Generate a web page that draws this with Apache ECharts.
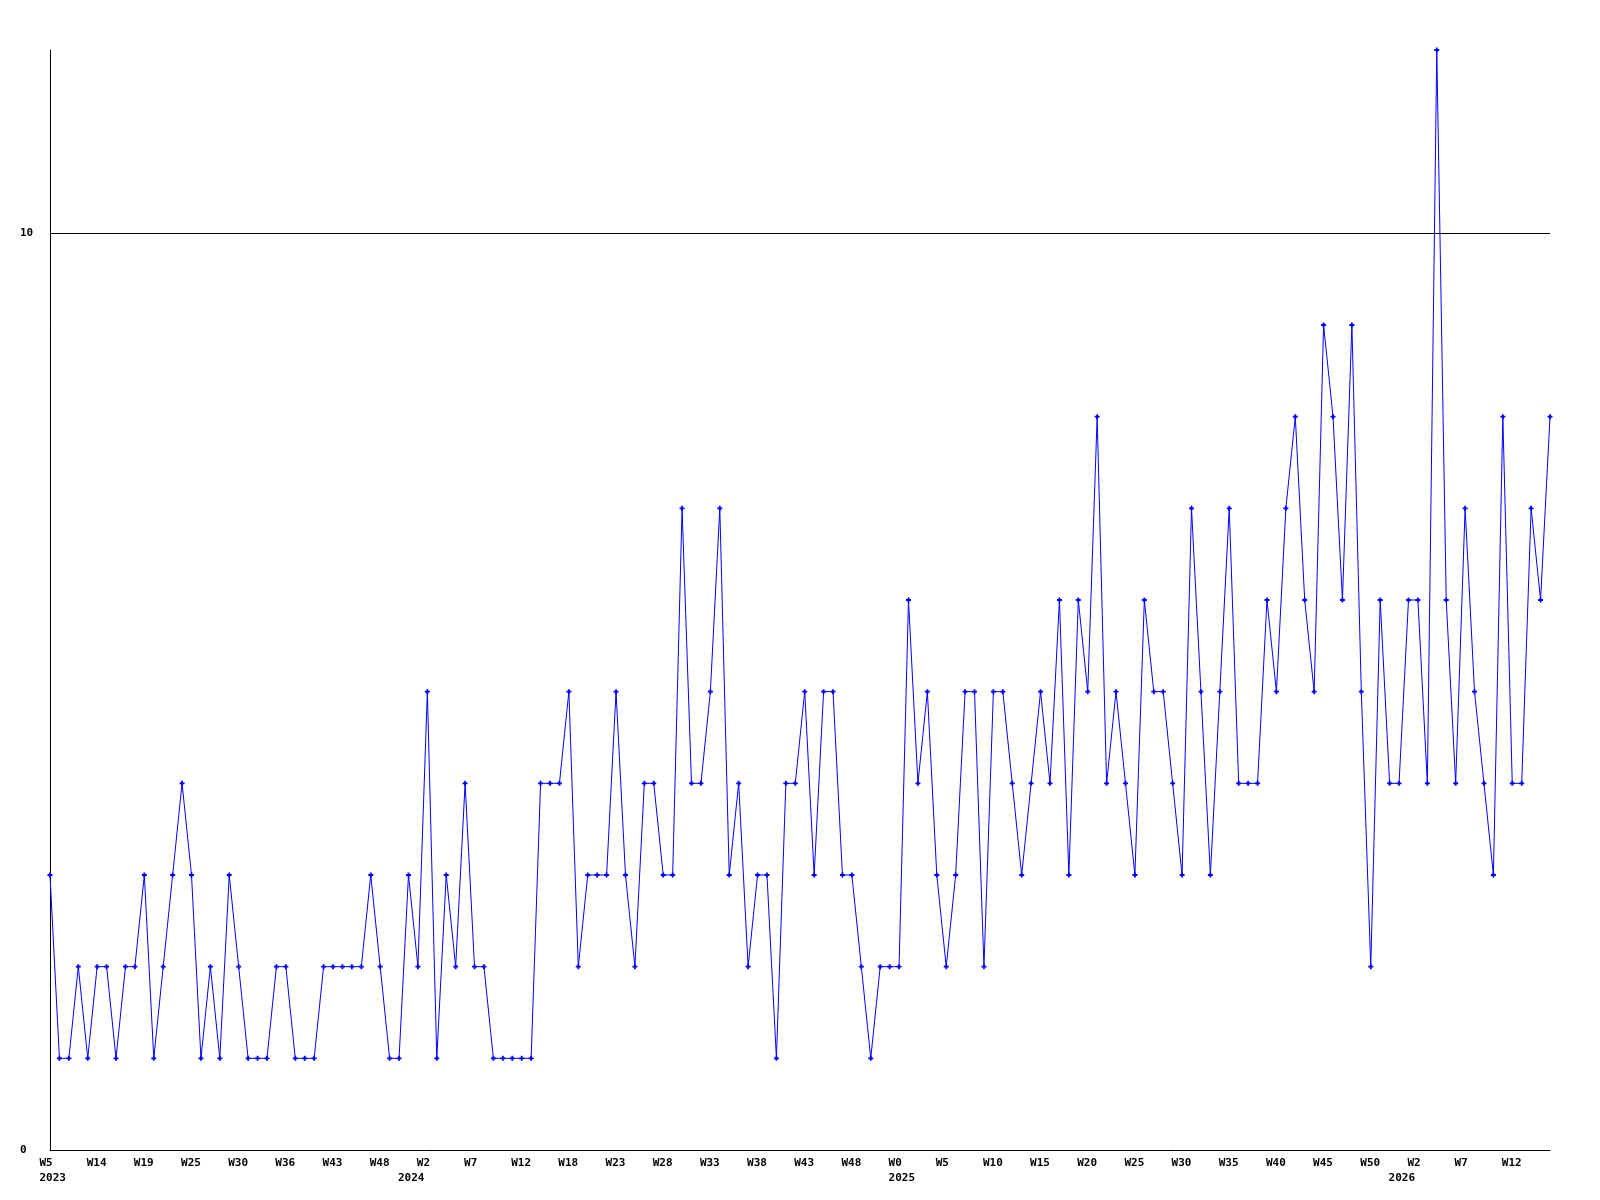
<!DOCTYPE html>
<html>
<head>
<meta charset="utf-8">
<script src="https://cdn.jsdelivr.net/npm/echarts@6/dist/echarts.min.js"></script>
<style>
  html, body { margin: 0; padding: 0; background: #fff; }
  #chart { width: 1600px; height: 1200px; }
</style>
</head>
<body>
<div id="chart"></div>
<script>
// Weekly values, one per point (160 points)
const values = [
  3,1,1,2,1,2,2,1,2,2, 3,1,2,3,4,3,1,2,1,3, 2,1,1,1,2,2,1,1,1,2, 2,2,2,2,3,2,1,1,3,2,
  5,1,3,2,4,2,2,1,1,1, 1,1,4,4,4,5,2,3,3,3, 5,3,2,4,4,3,3,7,4,4, 5,7,3,4,2,3,3,1,4,4,
  5,3,5,5,3,3,2,1,2,2, 2,6,4,5,3,2,3,5,5,2, 5,5,4,3,4,5,4,6,3,6, 5,8,4,5,4,3,6,5,5,4,
  3,7,5,3,5,7,4,4,4,6, 5,7,8,6,5,9,8,6,9,5, 2,6,4,4,6,6,4,12,6,4, 7,5,4,3,8,4,4,7,6,8
];
// Week tick labels shown every 5th point
const weekTickLabels = ['W5','W14','W19','W25','W30','W36','W43','W48','W2','W7','W12',
  'W18','W23','W28','W33','W38','W43','W48','W0','W5','W10','W15','W20','W25','W30',
  'W35','W40','W45','W50','W2','W7','W12'];
const weekTickStep = 5;
// Year labels and the point index where each year starts
const yearTickLabels = ['2023','2024','2025','2026'];
const yearTickIndex = [0, 38, 90, 143];
// y-axis labels shown
const yTickLabels = [0, 10];

const categories = values.map((v, i) => String(i));

const FONT = 'DejaVu Sans Mono';
const labelRich = {
  a: { width: 21, align: 'left', fontFamily: FONT, fontWeight: 'bold', fontSize: 11, color: '#000' }
};

const chart = echarts.init(document.getElementById('chart'), null, { renderer: 'canvas' });
chart.setOption({
  animation: false,
  backgroundColor: '#fff',
  grid: { left: 50, right: 50, top: 50, bottom: 50, containLabel: false },
  xAxis: [
    {
      type: 'category',
      data: categories,
      boundaryGap: false,
      position: 'bottom',
      axisLine: { show: true, lineStyle: { color: '#000', width: 1 } },
      axisTick: { show: false },
      splitLine: { show: false },
      axisLabel: {
        interval: (i) => i % weekTickStep === 0,
        margin: 8,
        align: 'center',
        formatter: (val, i) => {
          const k = Number(val);
          if (k % weekTickStep !== 0) return '';
          const t = weekTickLabels[k / weekTickStep];
          return t ? '{a|' + t + '}' : '';
        },
        rich: labelRich
      }
    },
    {
      type: 'category',
      data: categories,
      boundaryGap: false,
      position: 'bottom',
      offset: 0,
      axisLine: { show: false },
      axisTick: { show: false },
      splitLine: { show: false },
      axisLabel: {
        interval: (i) => yearTickIndex.indexOf(i) >= 0,
        margin: 23,
        align: 'center',
        formatter: (val) => {
          const j = yearTickIndex.indexOf(Number(val));
          return j >= 0 ? '{a|' + yearTickLabels[j] + '}' : '';
        },
        rich: labelRich
      }
    }
  ],
  yAxis: {
    type: 'value',
    min: 0,
    max: 12,
    interval: 2,
    axisLine: { show: true, lineStyle: { color: '#000', width: 1 } },
    axisTick: { show: false },
    splitLine: { show: false },
    axisLabel: {
      margin: 30,
      align: 'left',
      fontFamily: FONT,
      fontWeight: 'bold',
      fontSize: 11,
      color: '#000',
      formatter: (v) => (yTickLabels.indexOf(v) >= 0 ? String(v) : '')
    }
  },
  series: [{
    type: 'line',
    xAxisIndex: 0,
    data: values,
    symbol: 'path://M1.6 0H3.4V1.6H5V3.4H3.4V5H1.6V3.4H0V1.6H1.6Z',
    symbolSize: 5,
    showAllSymbol: true,
    itemStyle: { color: '#0000ff' },
    lineStyle: { color: '#0000ff', width: 1 },
    emphasis: { disabled: true },
    markLine: {
      silent: true,
      symbol: ['none', 'none'],
      label: { show: false },
      lineStyle: { color: '#000', width: 1, type: 'solid' },
      data: [{ yAxis: 10 }]
    }
  }]
});
</script>
</body>
</html>
